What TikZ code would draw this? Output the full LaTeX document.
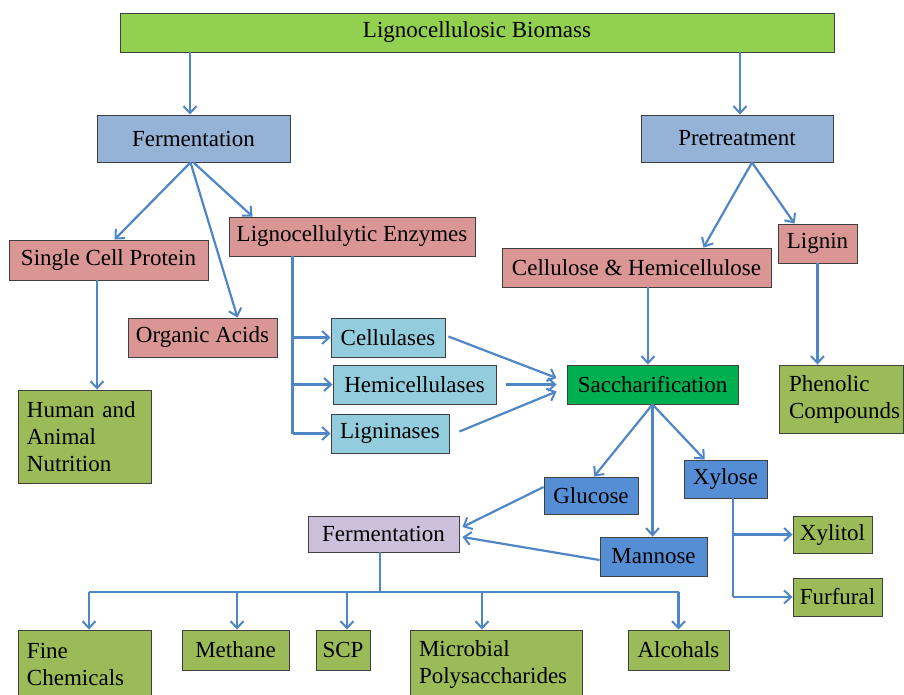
\documentclass[tikz,border=0pt]{standalone}
\usepackage{fontspec}
\setmainfont{Liberation Serif}
\usetikzlibrary{arrows.meta,shadows}
\definecolor{cbio}{HTML}{92D050}
\definecolor{cbg}{HTML}{95B3D7}
\definecolor{cpink}{HTML}{D99694}
\definecolor{clb}{HTML}{93CDDD}
\definecolor{csac}{HTML}{00B050}
\definecolor{colive}{HTML}{9BBB59}
\definecolor{cblue}{HTML}{558ED5}
\definecolor{clav}{HTML}{CCC0DA}
\definecolor{carr}{HTML}{4F86C6}
\definecolor{cbord}{HTML}{404040}
\tikzset{
  box/.style={draw=cbord, line width=0.9pt, inner sep=0pt, align=center,
    font=\fontsize{23}{27}\selectfont,
    drop shadow={shadow xshift=1.2pt, shadow yshift=-1.2pt, opacity=0.25}},
  lbox/.style={box, align=left},
  arr/.style={draw=carr, line width=2.2pt, -{Straight Barb[length=7pt,width=13pt,line width=2pt]}},
  ln/.style={draw=carr, line width=2.2pt}
}
\begin{document}
\begin{tikzpicture}[x=1pt,y=-1pt]
\useasboundingbox (0,0) rectangle (904,695);
% top level
\node[box, fill=cbio, minimum width=714, minimum height=39] (bio) at (477,32.5) {Lignocellulosic Biomass};
\node[box, fill=cbg, minimum width=193, minimum height=47] (ferm1) at (193.5,138.5) {Fermentation};
\node[box, fill=cbg, minimum width=192, minimum height=47] (pret) at (737,138.5) {Pretreatment};
% pink
\node[box, fill=cpink, minimum width=246, minimum height=39] (enz) at (352,236.5) {Lignocellulytic Enzymes};
\node[box, fill=cpink, minimum width=199, minimum height=40] (scp1) at (108.5,260) {Single Cell Protein};
\node[box, fill=cpink, minimum width=79, minimum height=39] (lignin) at (817.5,243.5) {Lignin};
\node[box, fill=cpink, minimum width=269, minimum height=39] (cell) at (636.5,267.5) {Cellulose \& Hemicellulose};
\node[box, fill=cpink, minimum width=149, minimum height=39] (orga) at (202.5,337.5) {Organic Acids};
% enzymes
\node[box, fill=clb, minimum width=114, minimum height=39] (cellu) at (388,337.5) {Cellulases};
\node[box, fill=clb, minimum width=163, minimum height=39] (hemi) at (414.5,384.5) {Hemicellulases};
\node[box, fill=clb, minimum width=118, minimum height=39] (ligni) at (390,433.5) {Ligninases};
\node[box, fill=csac, minimum width=171, minimum height=39] (sacch) at (652.5,384.5) {Saccharification};
% olive
\node[lbox, fill=colive, minimum width=124, minimum height=68, text width=104] (phen) at (841,399) {Phenolic\\Compounds};
\node[lbox, fill=colive, minimum width=133, minimum height=93, text width=115] (human) at (84.5,436.5) {Human and\\Animal\\Nutrition};
% sugars
\node[box, fill=cblue, minimum width=94, minimum height=37] (gluc) at (591,495.5) {Glucose};
\node[box, fill=cblue, minimum width=83, minimum height=38] (xyl) at (725.5,479) {Xylose};
\node[box, fill=clav, minimum width=151, minimum height=36] (ferm2) at (383.5,534) {Fermentation};
\node[box, fill=cblue, minimum width=107, minimum height=39] (mann) at (653.5,556.5) {Mannose};
\node[box, fill=colive, minimum width=79, minimum height=37] (xylit) at (832.5,534.5) {Xylitol};
\node[box, fill=colive, minimum width=89, minimum height=38] (furf) at (837.5,597) {Furfural};
% products
\node[lbox, fill=colive, minimum width=133, minimum height=68, text width=115] (fine) at (84.5,664) {Fine\\Chemicals};
\node[box, fill=colive, minimum width=107, minimum height=40] (meth) at (235.5,650) {Methane};
\node[box, fill=colive, minimum width=54, minimum height=40] (scp2) at (343,650) {SCP};
\node[lbox, fill=colive, minimum width=172, minimum height=68, text width=154] (micro) at (496,664) {Microbial\\Polysaccharides};
\node[box, fill=colive, minimum width=101, minimum height=40] (alc) at (678.5,650) {Alcohals};

% connectors from biomass
\draw[arr] ([xshift=-3.5]ferm1.north |- bio.south) -- ([xshift=-3.5]ferm1.north);
\draw[arr] ([xshift=3]pret.north |- bio.south) -- ([xshift=3]pret.north);
% fermentation branches
\draw[arr] ([xshift=-3]ferm1.south) -- ([xshift=6]scp1.north);
\draw[arr] ([xshift=-3]ferm1.south) -- ([xshift=35]orga.north);
\draw[arr] (ferm1.south) -- ([xshift=24]enz.north west);
% pretreatment branches
\draw[arr] ([xshift=15]pret.south) -- ([xshift=67]cell.north);
\draw[arr] ([xshift=15]pret.south) -- ([xshift=17]lignin.north west);
% SCP -> nutrition
\draw[arr] ([xshift=-11.5]scp1.south) -- ([xshift=12.5]human.north);
% enzymes trunk
\coordinate (trunk) at ([xshift=64]enz.south west);
\draw[ln] (trunk) -- (trunk |- ligni.west);
\draw[arr] (trunk |- cellu.west) -- (cellu.west);
\draw[arr] (trunk |- hemi.west) -- (hemi.west);
\draw[arr] (trunk |- ligni.west) -- (ligni.west);
% enzymes -> saccharification
\draw[arr] ([xshift=3,yshift=1]cellu.east) -- ([xshift=-10,yshift=6.5]sacch.west);
\draw[arr] ([xshift=10]hemi.east) -- ([xshift=-10]sacch.west);
\draw[arr] ([xshift=10,yshift=2]ligni.east) -- ([xshift=-10,yshift=-7]sacch.west);
% cellulose -> sacch, lignin -> phenolic
\draw[arr] ([xshift=11.5]cell.south) -- ([xshift=11.5]cell.south |- sacch.north);
\draw[arr] (lignin.south) -- (lignin.south |- phen.north);
% saccharification -> sugars
\draw[arr] (sacch.south) -- ([xshift=3]gluc.north);
\draw[arr] (sacch.south) -- (sacch.south |- mann.north);
\draw[arr] (sacch.south) -- ([xshift=21]xyl.north west);
% sugars -> fermentation
\draw[arr] ([yshift=8.5]gluc.west) -- ([xshift=3,yshift=7]ferm2.east);
\draw[arr] ([yshift=-3.5]mann.west) -- ([xshift=3,yshift=-3]ferm2.east);
% xylose trunk
\coordinate (xt) at ([xshift=7.5]xyl.south);
\draw[ln] (xt) -- (xt |- furf.west);
\draw[arr] (xt |- xylit.west) -- (xylit.west);
\draw[arr] (xt |- furf.west) -- (furf.west);
% fermentation bus
\coordinate (busy) at (0,592);
\coordinate (f1) at ([xshift=4.5]fine.north);
\coordinate (f2) at ([xshift=1.5]meth.north);
\coordinate (f3) at ([xshift=4]scp2.north);
\coordinate (f4) at ([xshift=-14]micro.north);
\coordinate (f5) at (alc.north);
\draw[ln] ([xshift=-3.5]ferm2.south) -- ([xshift=-3.5]ferm2.south |- busy);
\draw[ln] (f1 |- busy) -- (f5 |- busy);
\foreach \f in {f1,f2,f3,f4,f5}{
  \draw[arr] (\f |- busy) -- (\f);
}
\end{tikzpicture}
\end{document}
